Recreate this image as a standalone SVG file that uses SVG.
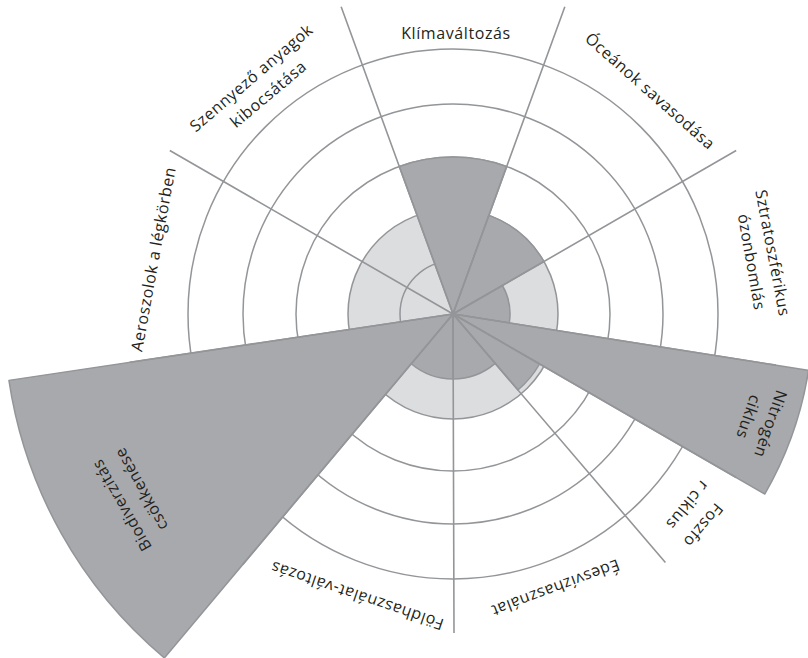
<svg xmlns="http://www.w3.org/2000/svg" width="808" height="658" viewBox="0 0 808 658">
<style>
.ring{fill:none;stroke:#939598;stroke-width:1.5}
.w{fill:#a7a9ac;stroke:#939598;stroke-width:1.5;stroke-linejoin:round}
.sp{stroke:#939598;stroke-width:1.6;fill:none}
text{font-family:"Open Sans","Noto Sans","Liberation Sans",sans-serif;font-size:16px;fill:#231f20;text-anchor:middle;letter-spacing:0.6px}
</style>
<rect width="808" height="658" fill="#ffffff"/>
<g id="grid">
<circle cx="453" cy="314" r="105" fill="#dcddde"/>
<circle class="ring" cx="453" cy="314" r="53"/>
<circle class="ring" cx="453" cy="314" r="105"/>
<circle class="ring" cx="453" cy="314" r="157"/>
<circle class="ring" cx="453" cy="314" r="210"/>
<circle class="ring" cx="453" cy="314" r="265"/>
</g>
<g id="klima">
<path class="w" d="M453,314 L399.30,166.47 A157,157 0 0 1 506.70,166.47 Z"/>
<text x="456" y="39">Klímaváltozás</text>
</g>
<g id="oceanok">
<path class="w" d="M453,314 L488.91,215.33 A105,105 0 0 1 543.93,261.5 Z"/>
<text x="453" y="22" transform="rotate(41.5 453 314)">Óceánok savasodása</text>
</g>
<g id="ozon">
<path class="w" d="M453,314 L502.36,285.5 A57,57 0 0 1 509.30,322.92 Z"/>
<text x="453" y="-6" transform="rotate(79.2 453 314)">Sztratoszférikus</text>
<text x="453" y="16.5" transform="rotate(80.1 453 314)">ózonbomlás</text>
</g>
<g id="nitrogen">
<path class="w" d="M453,314 L808.57,370.31 A360,360 0 0 1 764.77,494 Z"/>
<text x="453" y="-16.5" transform="rotate(109.1 453 314)">Nitrogén</text>
<text x="453" y="6.5" transform="rotate(109.2 453 314)">ciklus</text>
</g>
<g id="foszfor">
<path class="w" d="M453,314 L539.60,364 A100,100 0 0 1 517.95,390.04 Z"/>
<text x="453" y="-8" transform="rotate(130.2 453 314)">Foszfo</text>
<text x="453" y="17" transform="rotate(129.2 453 314)">r ciklus</text>
</g>
<g id="edesviz">
<path class="w" d="M453,314 L495.21,363.43 A65,65 0 0 1 453,379 Z"/>
<text x="453" y="27" transform="rotate(159.5 453 314)">Édesvízhasználat</text>
</g>
<g id="foldhasznalat">
<path class="w" d="M453,314 L453,379 A65,65 0 0 1 411.22,363.79 Z"/>
<text x="453" y="22" transform="rotate(198.8 453 314)">Földhasználat-változás</text>
</g>
<g id="biodiverzitas">
<path class="w" d="M453,314 L164.39,657.95 A449,449 0 0 1 8.93,380.37 Z"/>
<text x="453" y="-63" transform="rotate(240 453 314)">Biodiverzitás</text>
<text x="453" y="-38" transform="rotate(240.7 453 314)">csökkenése</text>
</g>
<g id="aeroszolok">
<text x="453" y="15" transform="rotate(-79.6 453 314)">Aeroszolok a légkörben</text>
</g>
<g id="szennyezo">
<text x="453" y="9" transform="rotate(-40.5 453 314)">Szennyező anyagok</text>
<text x="453" y="32.4" transform="rotate(-40 453 314)">kibocsátása</text>
</g>
<g id="connectors">
<path class="sp" d="M453,314 L341.16,6.72 M453,314 L564.84,6.72 M453,314 L736.19,150.5 M453,314 L775.97,365.15 M453,314 L736.19,477.5 M453,314 L665.4,562.6 M453,314 L454,633 M453,314 L242.81,564.5 M453,314 L129.6,362.3 M453,314 L169.81,150.5"/>
</g>
</svg>
